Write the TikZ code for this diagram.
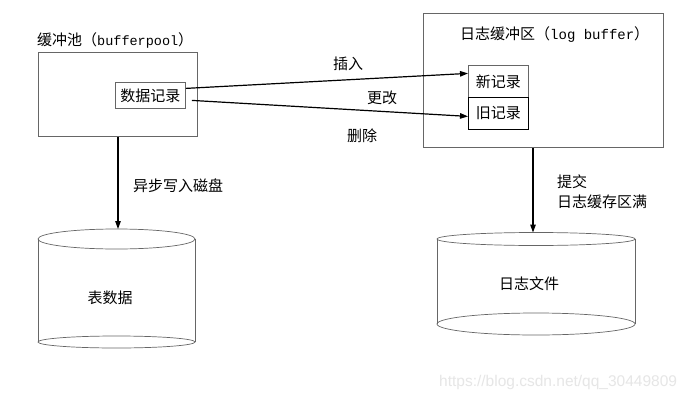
\documentclass[tikz,border=0pt]{standalone}
\usepackage{fontspec}
\setmainfont{Noto Sans CJK SC}
\newfontfamily\latinmono{Liberation Mono}
\newfontfamily\wmfont{Liberation Sans}
\usetikzlibrary{arrows.meta}
\definecolor{boxgray}{HTML}{666666}
\definecolor{wmgray}{HTML}{E6E6E6}
\begin{document}
\begin{tikzpicture}[x=1pt,y=-1pt,
  box/.style={draw=boxgray, line width=0.8pt, inner sep=0pt, anchor=north west},
  arr/.style={draw=black, line width=1.2pt, -{Triangle[length=8pt,width=5.5pt]}},
  lbl/.style={inner sep=0pt, font=\fontsize{15}{18}\selectfont},
  cyl/.style={draw=boxgray, line width=0.7pt}]
\useasboundingbox (0,0) rectangle (692,401);
\fill[white] (0,0) rectangle (692,401);

% titles
\node[lbl, anchor=west] (pooltitle) at (37,40) {缓冲池（{\latinmono\fontsize{13.5}{16}\selectfont bufferpool}）};
\node[lbl, anchor=west] (logtitle) at (460,35) {日志缓冲区（{\latinmono\fontsize{14}{16}\selectfont log buffer}）};

% boxes
\node[box, minimum width=159pt, minimum height=84pt] (pool) at (38,52) {};
\node[box, minimum width=70pt, minimum height=26pt, font=\fontsize{15}{18}\selectfont] (rec) at (115,82) {数据记录};
\node[box, minimum width=240pt, minimum height=134pt] (logbuf) at (423,13) {};
\node[box, minimum width=60pt, minimum height=32pt, font=\fontsize{15}{18}\selectfont] (newrec) at (468,65) {新记录};
\node[box, draw=black, minimum width=60pt, minimum height=32pt, font=\fontsize{15}{18}\selectfont] (oldrec) at (468,97) {旧记录};

% arrows between records
\draw[arr] ([yshift=7pt]rec.east) -- ([yshift=8pt]newrec.west);
\draw[arr] ([xshift=6pt,yshift=-5pt]rec.east) -- ([yshift=-3pt]oldrec.west);
\node[lbl] (ins) at (348,64) {插入};
\node[lbl] (upd) at (382,98) {更改};
\node[lbl] (del) at (362,136) {删除};

% left cylinder
\draw[cyl] (116.5,239) ellipse [x radius=78.5, y radius=10];
\draw[cyl] (38,239) -- (38,342) (195,239) -- (195,342);
\draw[cyl] (116.5,342) ellipse [x radius=78.5, y radius=6];
\coordinate (cylLtop) at (118,229);
\node[lbl] (tabdata) at (110,298) {表数据};

% right cylinder
\draw[cyl] (536,239) ellipse [x radius=99, y radius=6.5];
\draw[cyl] (437,239) -- (437,324) (635,239) -- (635,324);
\draw[cyl] (536,324) ellipse [x radius=99, y radius=11];
\coordinate (cylRtop) at (533,232.5);
\node[lbl] (logfile) at (529,284) {日志文件};

% vertical arrows
\draw[arr] (pool.south -| cylLtop) -- (cylLtop);
\node[lbl, anchor=west] (async) at (133,186) {异步写入磁盘};
\draw[arr] (logbuf.south -| cylRtop) -- (cylRtop);
\node[lbl, anchor=west] (commit) at (557,182) {提交};
\node[lbl, anchor=west] (full) at (557,202) {日志缓存区满};

% watermark
\node[inner sep=0pt, anchor=west, text=wmgray, font=\wmfont\fontsize{15.5}{18}\selectfont] (wm) at (439,382) {https://blog.csdn.net/qq\_30449809};
\end{tikzpicture}
\end{document}
